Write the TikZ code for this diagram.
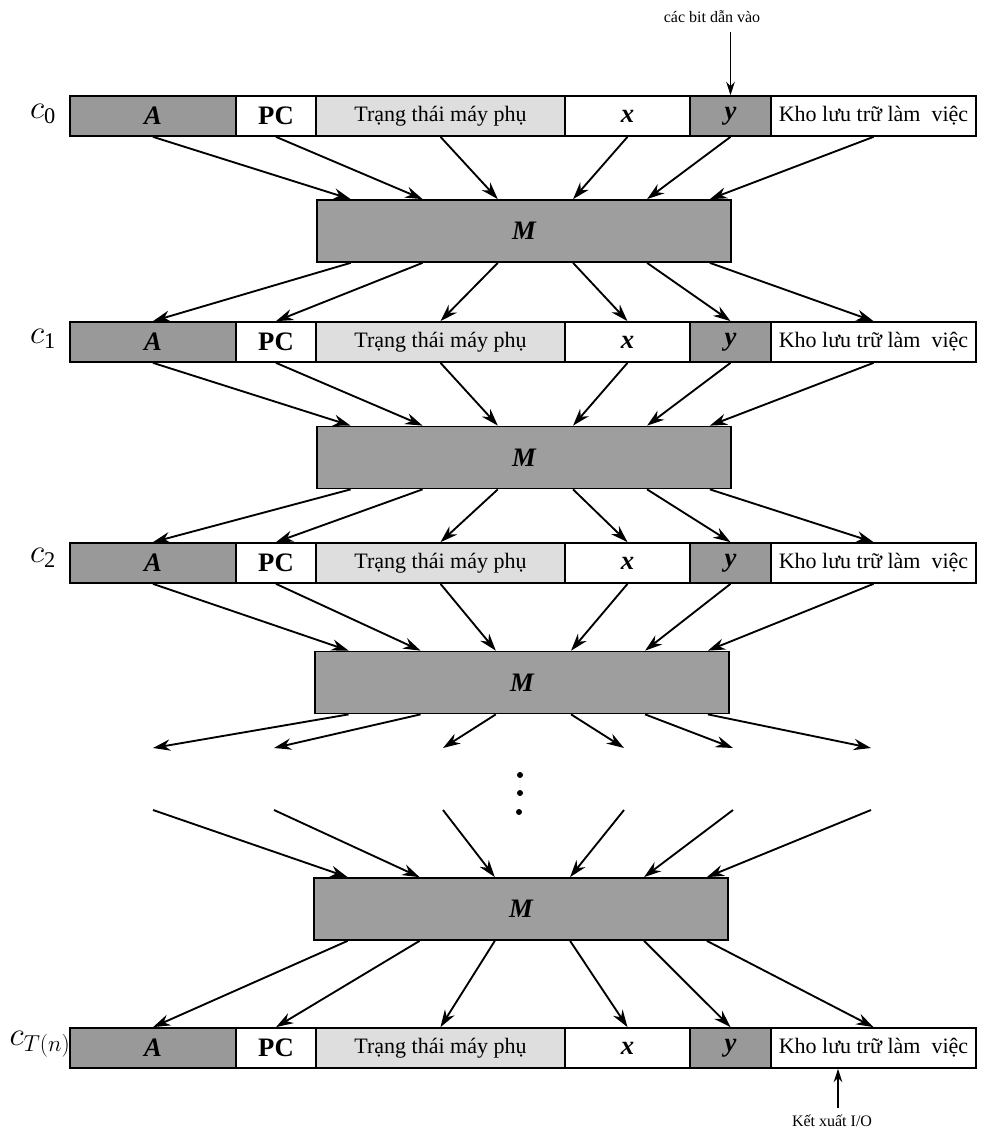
\documentclass[tikz,border=0pt]{standalone}
\usepackage{fontspec}
\setmainfont{Liberation Serif}
\usetikzlibrary{arrows.meta,calc}
\newcommand\tmrow[2]{%
  \node[dcell, minimum width=124.5pt] (#1A) at (153,#2) {\bigfnt\bfseries\itshape A};
  \node[wcell, minimum width=60pt] (#1P) at (276,#2) {\bigfnt\bfseries PC};
  \node[lcell, minimum width=186.75pt] (#1T) at (440.5,#2) {\txtfnt Trạng thái máy phụ};
  \node[wcell, minimum width=93.75pt] (#1X) at (627.5,#2) {\bigfnt\bfseries\itshape x};
  \node[dcell, minimum width=60.75pt] (#1Y) at (730.5,#2) {\bigfnt\bfseries\itshape y};
  \node[wcell, minimum width=153.75pt] (#1K) at (873.5,#2) {\txtfnt Kho lưu trữ làm\ \ việc};
}
\newcommand\bigfnt{\fontsize{20}{22}\selectfont}
\newcommand\txtfnt{\fontsize{16.5}{18}\selectfont}
\begin{document}
\begin{tikzpicture}[x=0.75pt,y=-0.75pt,
  cell/.style={draw=black, line width=1.3pt, inner sep=0pt, minimum height=30pt, anchor=center},
  dcell/.style={cell, fill=black!40},
  lcell/.style={cell, fill=black!13},
  wcell/.style={cell, fill=white},
  mbox/.style={draw=black, line width=1.3pt, fill=black!38, minimum width=310.5pt, minimum height=46.5pt, inner sep=0pt, font=\bigfnt\bfseries\itshape},
  arr/.style={line width=1.4pt, -{Stealth[length=13pt,width=8.5pt]}},
  thinarr/.style={line width=1pt, -{Stealth[length=10pt,width=6.5pt]}},
  clbl/.style={font=\fontsize{24}{28}\selectfont},
  smalllbl/.style={font=\fontsize{12}{14}\selectfont, inner sep=1pt},
  dotmark/.style={fill=black}
]
\useasboundingbox (0,0) rectangle (995,1134);

% rows
\tmrow{r0}{116}
\tmrow{r1}{342}
\tmrow{r2}{563}
\tmrow{rT}{1048}

% row labels
\node[clbl] (l0) at (43,114) {$c_{\mathrm{0}}$};
\node[clbl] (l1) at (43,339) {$c_{\mathrm{1}}$};
\node[clbl] (l2) at (43,558) {$c_{\mathrm{2}}$};
\node[clbl] (lT) at (40,1044) {$c_{T(n)}$};

% M boxes
\node[mbox] (M1) at (524,231) {M};
\node[mbox] (M2) at (524,457.5) {M};
\node[mbox] (M3) at (522,682.5) {M};
\node[mbox] (M4) at (521,909) {M};

% row -> M
\foreach \r/\m in {r0/M1, r1/M2, r2/M3}{
  \foreach \c/\f in {A/0.083,P/0.256,T/0.437,X/0.618,Y/0.796,K/0.947}{
    \draw[arr] (\r\c.south) -- ($(\m.north west)!\f!(\m.north east)$);
  }
}
% M -> row
\foreach \m/\r in {M1/r1, M2/r2, M4/rT}{
  \foreach \c/\f in {A/0.083,P/0.256,T/0.437,X/0.618,Y/0.796,K/0.947}{
    \draw[arr] ($(\m.south west)!\f!(\m.south east)$) -- (\r\c.north);
  }
}
% free ends in the gap
\foreach \c/\x/\f in {A/153/0.083,P/274/0.256,T/443/0.437,X/624/0.618,Y/733/0.796,K/871/0.947}{
  \coordinate (e\c) at (\x,748);
  \coordinate (s\c) at (\x,810);
  \draw[arr] ($(M3.south west)!\f!(M3.south east)$) -- (e\c);
  \draw[arr] (s\c) -- ($(M4.north west)!\f!(M4.north east)$);
}
% vertical dots
\fill[dotmark] (520,775) circle (3);
\fill[dotmark] (520,793) circle (3);
\fill[dotmark] (519,812) circle (3);

% input / output
\node[smalllbl] (inlbl) at (712,17) {các bit dẫn vào};
\coordinate (inpt) at (730.5,32);
\draw[thinarr] (inpt) -- (r0Y.north);
\node[smalllbl] (outlbl) at (832,1121) {Kết xuất I/O};
\coordinate (outpt) at (838,1108);
\draw[thinarr] (outpt) -- ($(rTK.south)+(-35.5,0)$);
\end{tikzpicture}
\end{document}
